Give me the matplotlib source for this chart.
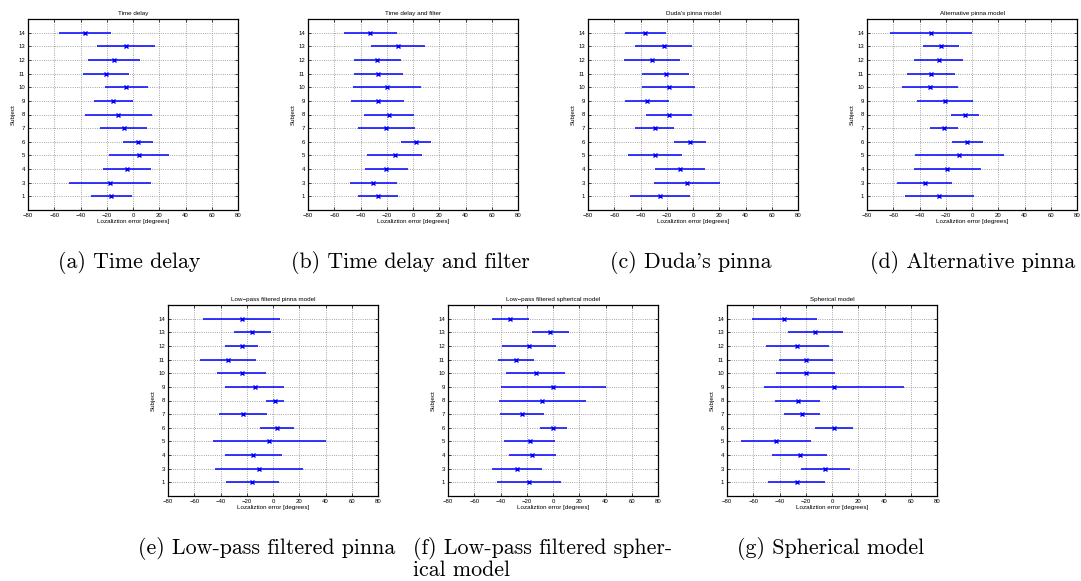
import numpy as np
import matplotlib
matplotlib.use('Agg')
import matplotlib.pyplot as plt

subjects = [1, 3, 4, 5, 6, 7, 8, 9, 10, 11, 12, 13, 14]

titles = ['Time delay', 'Time delay and filter', "Duda's pinna model",
          'Alternative pinna model', 'Low\u2212pass filtered pinna model',
          'Low\u2212pass filtered spherical model', 'Spherical model']

captions = ['(a) Time delay', '(b) Time delay and filter', "(c) Duda's pinna",
            '(d) Alternative pinna', '(e) Low-pass filtered pinna',
            '(f) Low-pass filtered spher-\nical model', '(g) Spherical model']

# mittelwerte (Reihenfolge wie subjects)
mean_a = [-16.5, -17.5, -4.6, 4.6, 3.8, -7.1, -11.2, -15.0, -5.1, -20.6, -14.5, -5.6, -36.6]
mean_b = [-26.8, -30.1, -20.2, -14.0, 2.3, -20.4, -18.4, -26.8, -19.9, -26.3, -27.3, -11.5, -32.4]
mean_c = [-25.0, -4.6, -9.9, -29.1, -2.0, -29.3, -18.4, -35.2, -18.6, -20.7, -31.1, -22.4, -36.2]
mean_d = [-25.0, -35.9, -18.9, -9.7, -3.6, -21.4, -5.4, -20.4, -32.1, -31.1, -25.5, -23.7, -31.3]
mean_e = [-15.7, -10.7, -15.0, -2.8, 2.8, -22.9, 1.5, -14.0, -23.9, -34.0, -23.9, -15.7, -23.9]
mean_f = [-18.6, -27.3, -15.8, -17.6, 0.3, -23.5, -8.2, 0.3, -13.3, -28.3, -18.1, -2.0, -32.7]
mean_g = [-27.0, -5.1, -24.7, -42.5, 1.3, -22.9, -26.2, 1.5, -20.1, -20.1, -26.5, -12.7, -36.2]

# standardabweichungen
std_a = [15.6, 31.3, 18.3, 22.6, 11.5, 18.1, 25.4, 14.8, 16.6, 17.6, 20.0, 22.0, 19.7]
std_b = [15.3, 17.9, 16.7, 20.7, 11.3, 21.6, 19.0, 20.2, 25.8, 18.5, 17.8, 20.7, 19.9]
std_c = [22.9, 24.9, 19.4, 20.8, 12.1, 15.2, 17.6, 16.8, 20.4, 17.9, 21.5, 21.6, 15.6]
std_d = [26.3, 20.9, 25.4, 33.8, 11.9, 10.8, 10.6, 21.2, 21.4, 18.3, 18.9, 14.0, 31.4]
std_e = [20.0, 33.8, 21.6, 43.2, 13.0, 18.5, 7.0, 22.4, 18.8, 21.4, 12.6, 13.9, 29.6]
std_f = [24.4, 18.8, 17.9, 19.4, 10.0, 17.0, 33.3, 39.8, 22.5, 13.5, 20.7, 14.3, 14.1]
std_g = [21.7, 18.8, 20.8, 26.5, 14.5, 13.5, 17.2, 53.2, 22.3, 20.5, 24.0, 21.0, 24.8]

means = [mean_a, mean_b, mean_c, mean_d, mean_e, mean_f, mean_g]
stds = [std_a, std_b, std_c, std_d, std_e, std_f, std_g]

W, H = 1081, 581
# axes-positionen in pixeln (links, oben)
pos = [(28, 19), (308, 19), (588, 19), (867, 19),
       (168, 305), (448, 305), (727, 305)]
cap_pos = [(129, 262), (410, 262), (691, 262), (973, 262),
           (267, 548), (413, 548), (831, 548)]
aw, ah = 210, 191

plt.rcParams['font.family'] = ['Liberation Sans', 'DejaVu Sans']
fig = plt.figure(figsize=(W / 100, H / 100), dpi=100)

# subjekte gleichmaessig verteilt (2 fehlt)
ypos = np.arange(1, len(subjects) + 1)

for i in range(7):
    x0, y0 = pos[i]
    ax = fig.add_axes([x0 / W, 1 - (y0 + ah) / H, aw / W, ah / H])
    ax.errorbar(means[i], ypos, xerr=stds[i], fmt='x', color='blue',
                ecolor='blue', elinewidth=1.1, capsize=0, markersize=3,
                markeredgewidth=1.0)
    ax.set_xlim(-80, 80)
    ax.set_ylim(0, 14)
    ax.set_xticks(np.arange(-80, 81, 20))
    ax.set_yticks(ypos)
    ax.set_yticklabels([str(s) for s in subjects])
    ax.grid(True, linestyle=':', color='#888888', linewidth=0.6)
    ax.tick_params(direction='in', length=2, width=0.5, labelsize=4.3,
                   pad=2, top=True, right=True)
    for s in ax.spines.values():
        s.set_linewidth(0.9)
    ax.set_title(titles[i], fontsize=4.5, pad=3)
    ax.set_xlabel('Lozaliztion error [degrees]', fontsize=4.5, labelpad=1)
    ax.set_ylabel('Subject', fontsize=4.5, labelpad=2)

for i in range(7):
    cx, cy = cap_pos[i]
    if i == 5:
        fig.text(cx / W, 1 - (cy - 11) / H, captions[i], family='cmr10',
                 fontsize=15.8, ha='left', va='top', linespacing=1.0)
    else:
        fig.text(cx / W, 1 - cy / H, captions[i], family='cmr10',
                 fontsize=15.8, ha='center', va='center')

fig.savefig('out.png', dpi=100)
